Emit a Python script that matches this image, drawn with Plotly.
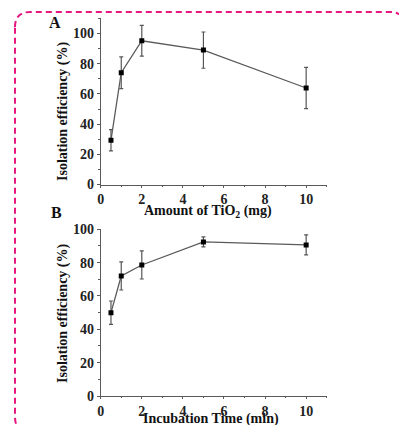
import plotly.graph_objects as go

# Panel A
tio2_mg = [0.5, 1, 2, 5, 10]
eff_a = [29.3, 74, 95.2, 89, 63.9]
err_a = [7, 10.5, 10.2, 12, 13.7]

# Panel B
time_min = [0.5, 1, 2, 5, 10]
eff_b = [50, 72, 78.6, 92.4, 90.6]
err_b = [7, 8.4, 8.4, 3, 6]

x_ticks = [0, 2, 4, 6, 8, 10]
y_ticks = [0, 20, 40, 60, 80, 100]

OFF = 8  # page body margin
W, H = 407 - OFF, 425 - OFF
FONT = "Liberation Serif"
LINE = "#5a5a5a"
PINK = "#e6177f"

def px(x):
    return (x - OFF) / W

def py(y):
    return 1 - (y - OFF) / H

fig = go.Figure()
fig.add_trace(go.Scatter(
    x=tio2_mg, y=eff_a, mode="lines+markers",
    line=dict(color=LINE, width=1.3),
    marker=dict(symbol="square", size=5, color="black"),
    error_y=dict(type="data", array=err_a, visible=True, color="#555", thickness=1.2, width=2),
    xaxis="x", yaxis="y", showlegend=False))
fig.add_trace(go.Scatter(
    x=time_min, y=eff_b, mode="lines+markers",
    line=dict(color=LINE, width=1.3),
    marker=dict(symbol="square", size=5, color="black"),
    error_y=dict(type="data", array=err_b, visible=True, color="#555", thickness=1.2, width=2),
    xaxis="x2", yaxis="y2", showlegend=False))

tickfont = dict(family=FONT, size=14, color="#222", weight="bold")
xax = dict(range=[0, 11], tickvals=x_ticks, ticks="outside", ticklen=2, tickcolor=LINE,
           showline=True, linecolor=LINE, linewidth=1, showgrid=False, zeroline=False,
           tickfont=tickfont, automargin=False,
           minor=dict(ticks="outside", ticklen=1, dtick=1, tickcolor=LINE, showgrid=False))
yax = dict(tickvals=y_ticks, ticks="outside", ticklen=3, tickcolor=LINE,
           showline=True, linecolor=LINE, linewidth=1, showgrid=False, zeroline=False,
           tickfont=tickfont, automargin=False,
           minor=dict(ticks="outside", ticklen=2, dtick=10, tickcolor=LINE, showgrid=False))

fig.update_layout(
    width=W, height=H,
    margin=dict(l=0, r=0, t=0, b=0),
    paper_bgcolor="white", plot_bgcolor="white",
    font=dict(family=FONT),
    xaxis=dict(xax, domain=[px(100.7), px(326.7)], anchor="y"),
    yaxis=dict(yax, domain=[py(184.5), py(18.4)], range=[0, 110], anchor="x"),
    xaxis2=dict(xax, domain=[px(100.7), px(326.7)], anchor="y2"),
    yaxis2=dict(yax, domain=[py(396), py(229.3)], range=[0, 100], anchor="x2"),
)

ann_font = dict(family=FONT, size=14, color="#111", weight="bold")
annotations = [
    dict(text="A", x=px(55), y=py(22), font=dict(family=FONT, size=16, color="#111", weight="bold")),
    dict(text="B", x=px(56), y=py(212), font=dict(family=FONT, size=16, color="#111", weight="bold")),
    dict(text="Isolation efficiency (%)", x=px(63), y=py(111), textangle=-90, font=ann_font),
    dict(text="Isolation efficiency (%)", x=px(63), y=py(313), textangle=-90, font=ann_font),
    dict(text="Amount of TiO<sub>2</sub> (mg)", x=px(208), y=py(211), font=ann_font),
    dict(text="Incubation Time (min)", x=px(211), y=py(419), font=ann_font),
]
for a in annotations:
    a.update(xref="paper", yref="paper", showarrow=False, xanchor="center", yanchor="middle")
fig.update_layout(annotations=annotations)

# rounded dashed border (bottom edge falls just outside the frame)
x0, x1, y0, y1, r = 15, 405, 12, 432, 15
path = (f"M {px(x0)},{py(y0 + r)} Q {px(x0)},{py(y0)} {px(x0 + r)},{py(y0)} "
        f"L {px(x1 - r)},{py(y0)} Q {px(x1)},{py(y0)} {px(x1)},{py(y0 + r)} "
        f"L {px(x1)},{py(y1 - r)} Q {px(x1)},{py(y1)} {px(x1 - r)},{py(y1)} "
        f"L {px(x0 + r)},{py(y1)} Q {px(x0)},{py(y1)} {px(x0)},{py(y1 - r)} Z")
fig.add_shape(type="path", path=path, xref="paper", yref="paper",
              line=dict(color=PINK, width=2, dash="6px,4px"), layer="below")

fig.write_html("out.html")
